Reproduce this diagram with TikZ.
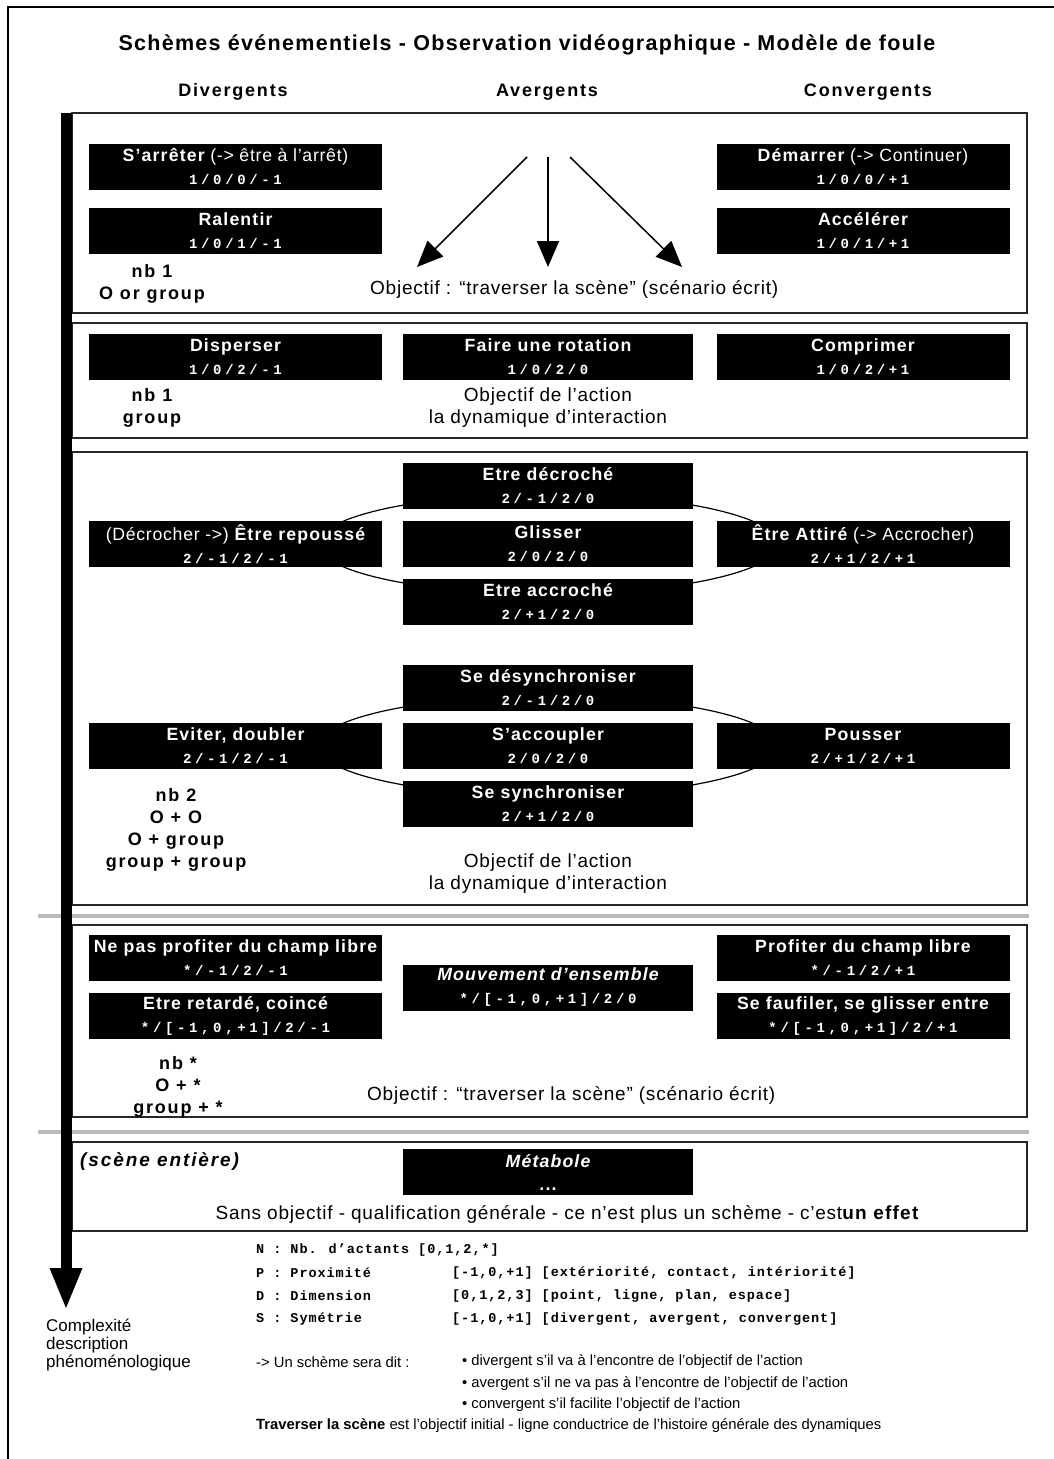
\documentclass[tikz,border=0pt]{standalone}
\usepackage{fontspec}
\setmainfont[LetterSpace=4]{Liberation Sans}
\newfontfamily\spsans[LetterSpace=6.5]{Liberation Sans}
\newfontfamily\headfont[LetterSpace=10]{Liberation Sans}
\newfontfamily\titlefont[LetterSpace=6]{Liberation Sans}
\newfontfamily\notefont{Liberation Sans}
\newfontfamily\codefont[LetterSpace=26]{Liberation Mono}
\newfontfamily\legfont[LetterSpace=7]{Liberation Mono}
\usetikzlibrary{arrows.meta}
\newcommand\schlbl[1]{{\spsans\bfseries #1}}
\newcommand\schcode[1]{{\fontsize{14}{23}\selectfont\codefont\bfseries #1}}

\begin{document}
\begin{tikzpicture}[x=1pt,y=-1pt,
  panel/.style={draw=black!85, line width=1.4pt},
  schbox/.style={fill=black, text=white, inner sep=0pt, minimum width=293pt,
    minimum height=46pt, align=center, font=\fontsize{17.7}{23}\selectfont},
  midbox/.style={schbox, minimum width=290pt},
  plain/.style={align=center, font=\fontsize{19}{22}\selectfont, inner sep=0pt},
  bsp/.style={align=center, font=\fontsize{18}{22}\selectfont\headfont\bfseries, inner sep=0pt},
  sepline/.style={draw=black!27, line width=4pt},
  ptr/.style={line width=1.5pt, -{Triangle[length=26pt,width=22pt]}},
  ring/.style={line width=1.2pt},
  legend/.style={anchor=west, inner sep=0pt, font=\fontsize{13.5}{15}\selectfont\legfont\bfseries},
  note/.style={anchor=west, inner sep=0pt, font=\fontsize{14.8}{17}\selectfont\notefont},
]
\useasboundingbox (0,0) rectangle (1054,1459);

% outer frame (top and left sides)
\draw[line width=2pt] (8,1459) -- (8,7) -- (1054,7);

% title and column headings
\node[bsp, font=\fontsize{21.5}{24}\selectfont\titlefont\bfseries] (title) at (527,45)
  {Schèmes événementiels - Observation vidéographique - Modèle de foule};
\node[bsp] (hdiv) at (233,92) {Divergents};
\node[bsp] (havg) at (547,92) {Avergents};
\node[bsp] (hconv) at (868,92) {Convergents};

% panels
\draw[panel] (72,113) rectangle (1027,313);
\draw[panel] (72,323) rectangle (1027,438);
\draw[panel] (72,452) rectangle (1027,905);
\draw[panel] (72,925) rectangle (1027,1117);
\draw[panel] (72,1142) rectangle (1027,1231);
\draw[sepline] (38,916) -- (1029,916);
\draw[sepline] (38,1132) -- (1029,1132);

% complexity axis
\fill (60.5,113) rectangle (71.5,1270);
\fill (49.5,1268) -- (82.5,1268) -- (66,1308) -- cycle;
\node[anchor=north west, inner sep=0pt, align=left, font=\fontsize{17}{18}\selectfont\notefont] (cplx) at (46,1319)
  {Complexité\\description\\phénoménologique};

% ---- panel 1: one actant
\node[schbox] (arreter) at (235.5,166.5) {\schlbl{S’arrêter} (-> être à l’arrêt)\\\schcode{1/0/0/-1}};
\node[schbox] (ralentir) at (235.5,231) {\schlbl{Ralentir}\\\schcode{1/0/1/-1}};
\node[schbox] (demarrer) at (863,166.5) {\schlbl{Démarrer} (-> Continuer)\\\schcode{1/0/0/+1}};
\node[schbox] (accel) at (863,231) {\schlbl{Accélérer}\\\schcode{1/0/1/+1}};
\node[bsp] (nbone) at (152,284) {nb 1\\O or group};
\node[plain, anchor=west] (obj1) at (370,289) {Objectif : “traverser la scène” (scénario écrit)};
\coordinate (apexl) at (527,157);
\coordinate (apexm) at (548,157);
\coordinate (apexr) at (570,157);
\coordinate (tipl) at (417,267);
\coordinate (tipm) at (548,267);
\coordinate (tipr) at (682,267);
\draw[ptr] (apexl) -- (tipl);
\draw[ptr] (apexm) -- (tipm);
\draw[ptr] (apexr) -- (tipr);

% ---- panel 2: one group
\node[schbox] (disperser) at (235.5,357) {\schlbl{Disperser}\\\schcode{1/0/2/-1}};
\node[midbox] (rotation) at (548,357) {\schlbl{Faire une rotation}\\\schcode{1/0/2/0}};
\node[schbox] (comprimer) at (863,357) {\schlbl{Comprimer}\\\schcode{1/0/2/+1}};
\node[bsp] (nbgroup) at (152,408) {nb 1\\group};
\node[plain] (obj2) at (548,408) {Objectif de l’action\\la dynamique d’interaction};

% ---- panel 3: two actants
\draw[ring] (548,544) ellipse [x radius=230pt, y radius=50pt];
\draw[ring] (548,746) ellipse [x radius=230pt, y radius=50pt];
\node[midbox] (decroche) at (548,486) {\schlbl{Etre décroché}\\\schcode{2/-1/2/0}};
\node[midbox] (glisser) at (548,544) {\schlbl{Glisser}\\\schcode{2/0/2/0}};
\node[midbox] (accroche) at (548,602) {\schlbl{Etre accroché}\\\schcode{2/+1/2/0}};
\node[schbox] (repousse) at (235.5,544) {(Décrocher ->) \schlbl{Être repoussé}\\\schcode{2/-1/2/-1}};
\node[schbox] (attire) at (863,544) {\schlbl{Être Attiré} (-> Accrocher)\\\schcode{2/+1/2/+1}};
\node[midbox] (desync) at (548,688) {\schlbl{Se désynchroniser}\\\schcode{2/-1/2/0}};
\node[midbox] (accoupler) at (548,746) {\schlbl{S’accoupler}\\\schcode{2/0/2/0}};
\node[midbox] (sync) at (548,804) {\schlbl{Se synchroniser}\\\schcode{2/+1/2/0}};
\node[schbox] (eviter) at (235.5,746) {\schlbl{Eviter, doubler}\\\schcode{2/-1/2/-1}};
\node[schbox] (pousser) at (863,746) {\schlbl{Pousser}\\\schcode{2/+1/2/+1}};
\node[bsp] (nbtwo) at (176,830) {nb 2\\O + O\\O + group\\group + group};
\node[plain] (obj3) at (548,874) {Objectif de l’action\\la dynamique d’interaction};

% ---- panel 4: any number of actants
\node[schbox] (nonprof) at (235.5,957.5) {\schlbl{Ne pas profiter du champ libre}\\\schcode{*/-1/2/-1}};
\node[schbox] (retarde) at (235.5,1016) {\schlbl{Etre retardé, coincé}\\\schcode{*/[-1,0,+1]/2/-1}};
\node[midbox] (ensemble) at (548,987.5) {\schlbl{\itshape Mouvement d’ensemble}\\\schcode{*/[-1,0,+1]/2/0}};
\node[schbox] (profiter) at (863,957.5) {\schlbl{Profiter du champ libre}\\\schcode{*/-1/2/+1}};
\node[schbox] (faufiler) at (863,1016) {\schlbl{Se faufiler, se glisser entre}\\\schcode{*/[-1,0,+1]/2/+1}};
\node[bsp] (nbany) at (178,1087) {nb *\\O + *\\group + *};
\node[plain, anchor=west] (obj4) at (367,1095) {Objectif : “traverser la scène” (scénario écrit)};

% ---- panel 5: whole scene
\node[bsp, anchor=west, font=\fontsize{19}{22}\selectfont\headfont\bfseries\itshape] (scene) at (80,1161) {(scène entière)};
\node[midbox] (metabole) at (548,1172) {\schlbl{\itshape Métabole}\\\schlbl{...}};
\node[plain] (sansobj) at (567,1214) {Sans objectif - qualification générale - ce n’est plus un schème - c’est\schlbl{un effet}};

% ---- legend
\node[legend] (legn) at (256,1250) {N : Nb. d’actants [0,1,2,*]};
\node[legend] (legp) at (256,1273) {P : Proximité};
\node[legend] (legd) at (256,1296) {D : Dimension};
\node[legend] (legs) at (256,1319) {S : Symétrie};
\node[legend] (legpv) at (452,1273) {[-1,0,+1] [extériorité, contact, intériorité]};
\node[legend] (legdv) at (452,1296) {[0,1,2,3] [point, ligne, plan, espace]};
\node[legend] (legsv) at (452,1319) {[-1,0,+1] [divergent, avergent, convergent]};

\node[note] (dit) at (256,1362) {-> Un schème sera dit :};
\node[note] (bdiv) at (462,1362) {• divergent s’il va à l’encontre de l’objectif de l’action};
\node[note] (bavg) at (462,1384) {• avergent s’il ne va pas à l’encontre de l’objectif de l’action};
\node[note] (bconv) at (462,1405) {• convergent s’il facilite l’objectif de l’action};
\node[note] (trav) at (256,1426) {\textbf{Traverser la scène} est l’objectif initial - ligne conductrice de l’histoire générale des dynamiques};
\end{tikzpicture}
\end{document}
